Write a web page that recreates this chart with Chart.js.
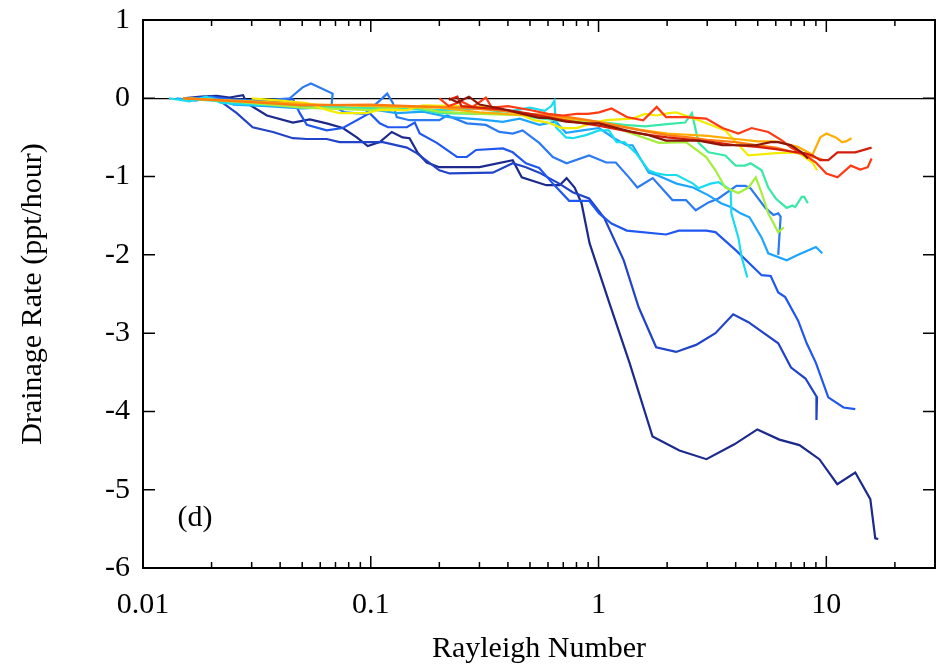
<!DOCTYPE html>
<html>
<head>
<meta charset="utf-8">
<script src="https://cdn.jsdelivr.net/npm/chart.js@4.4.1/dist/chart.umd.min.js"></script>
<style>
  body { margin: 0; background: #fff; }
  #wrap { width: 938px; height: 667px; }
</style>
</head>
<body>
<div id="wrap"><canvas id="chart"></canvas></div>
<script>
// Rayleigh number vs drainage rate, one [x, y] list per run (cold -> warm colours)
var runNavy = [[0.015,0],[0.018,0.02],[0.021,0.03],[0.024,0.01],[0.0275,0.04],[0.0285,-0.06],[0.035,-0.22],[0.0455,-0.31],[0.054,-0.27],[0.064,-0.32],[0.0754,-0.38],[0.0868,-0.5],[0.097,-0.61],[0.1095,-0.56],[0.1236,-0.43],[0.138,-0.5],[0.148,-0.51],[0.161,-0.7],[0.176,-0.82],[0.2,-0.88],[0.3,-0.88],[0.42,-0.79],[0.46,-1.01],[0.59,-1.11],[0.675,-1.11],[0.724,-1.02],[0.785,-1.14],[0.842,-1.34],[0.913,-1.85],[1.117,-2.62],[1.368,-3.38],[1.726,-4.32],[2.265,-4.5],[2.977,-4.61],[3.947,-4.42],[4.98,-4.23],[6.22,-4.36],[7.62,-4.43],[9.32,-4.61],[11.17,-4.93],[13.4,-4.78],[15.6,-5.12],[16.4,-5.62],[16.9,-5.63]];
var runBlue1 = [[0.016,0],[0.0178,-0.01],[0.02,0.01],[0.0224,-0.06],[0.0258,-0.19],[0.0303,-0.37],[0.0372,-0.43],[0.0455,-0.51],[0.0524,-0.52],[0.064,-0.52],[0.073,-0.56],[0.083,-0.56],[0.113,-0.56],[0.144,-0.63],[0.159,-0.7],[0.2,-0.92],[0.222,-0.96],[0.343,-0.95],[0.42,-0.83],[0.48,-0.88],[0.549,-0.95],[0.672,-1.09],[0.77,-1.2],[0.909,-1.28],[1.06,-1.53],[1.29,-2.07],[1.5,-2.67],[1.79,-3.18],[2.19,-3.24],[2.68,-3.15],[3.26,-3.0],[3.9,-2.76],[4.55,-2.86],[6.15,-3.13],[7.0,-3.44],[8.1,-3.58],[9.1,-3.82],[9.05,-4.11]];
var runBlue2 = [[0.016,0],[0.02,0.02],[0.0241,-0.01],[0.0326,-0.03],[0.041,-0.04],[0.0455,-0.01],[0.0488,-0.19],[0.0524,-0.34],[0.064,-0.41],[0.0754,-0.38],[0.099,-0.19],[0.1095,-0.32],[0.119,-0.37],[0.144,-0.37],[0.156,-0.31],[0.164,-0.45],[0.195,-0.57],[0.239,-0.75],[0.264,-0.75],[0.29,-0.66],[0.38,-0.64],[0.42,-0.69],[0.48,-0.83],[0.549,-0.89],[0.63,-1.09],[0.743,-1.31],[0.909,-1.31],[1.005,-1.47],[1.14,-1.6],[1.33,-1.69],[1.98,-1.74],[2.25,-1.69],[2.97,-1.69],[3.26,-1.71],[4.0,-1.94],[5.2,-2.26],[5.7,-2.27],[6.15,-2.48],[6.6,-2.54],[7.52,-2.84],[8.2,-3.13],[9.0,-3.38],[10.2,-3.82],[11.9,-3.95],[13.4,-3.97]];
var runBlue3 = [[0.016,0],[0.025,-0.02],[0.0326,-0.03],[0.0441,0],[0.0502,0.14],[0.0546,0.19],[0.068,0.06],[0.0673,-0.09],[0.077,-0.18],[0.094,-0.2],[0.1095,-0.03],[0.118,0.06],[0.125,-0.06],[0.13,-0.24],[0.148,-0.28],[0.2,-0.28],[0.216,-0.22],[0.264,-0.32],[0.32,-0.34],[0.367,-0.43],[0.42,-0.45],[0.464,-0.41],[0.549,-0.57],[0.63,-0.75],[0.724,-0.83],[0.909,-0.73],[1.08,-0.82],[1.19,-0.82],[1.36,-1.01],[1.48,-1.14],[1.73,-1.02],[1.98,-1.21],[2.11,-1.3],[2.42,-1.3],[2.67,-1.43],[3.04,-1.33],[3.36,-1.28],[4.03,-1.12],[4.41,-1.12],[4.65,-1.15],[5.4,-1.4],[5.86,-1.49],[6.15,-1.47],[6.3,-1.51],[6.15,-2.0]];
var runSky = [[0.014,0],[0.017,-0.03],[0.02,0.01],[0.025,-0.08],[0.035,-0.1],[0.05,-0.13],[0.07,-0.11],[0.1,-0.14],[0.13,-0.19],[0.17,-0.17],[0.22,-0.24],[0.3,-0.27],[0.38,-0.3],[0.45,-0.26],[0.55,-0.34],[0.65,-0.3],[0.72,-0.44],[0.85,-0.41],[1.005,-0.38],[1.17,-0.51],[1.33,-0.6],[1.41,-0.6],[1.66,-0.95],[1.8,-0.98],[2.2,-1.09],[2.6,-1.14],[3.04,-1.24],[3.45,-1.34],[3.8,-1.39],[4.2,-1.47],[4.6,-1.52],[5.2,-1.78],[5.56,-1.98],[6.7,-2.07],[7.52,-2.0],[9.0,-1.9],[9.6,-1.98]];
var runCyan = [[0.013,0],[0.016,-0.04],[0.019,0.02],[0.022,-0.06],[0.03,-0.08],[0.05,-0.1],[0.08,-0.12],[0.12,-0.13],[0.2,-0.15],[0.3,-0.13],[0.4,-0.17],[0.5,-0.12],[0.58,-0.16],[0.62,-0.1],[0.64,-0.03],[0.65,-0.37],[0.72,-0.5],[0.77,-0.51],[0.88,-0.47],[1.005,-0.41],[1.11,-0.41],[1.2,-0.56],[1.3,-0.56],[1.46,-0.7],[1.66,-0.92],[1.8,-0.96],[1.98,-0.98],[2.2,-0.98],[2.6,-1.09],[2.75,-1.15],[3.1,-1.09],[3.36,-1.07],[3.8,-1.17],[3.83,-1.47],[4.11,-1.78],[4.25,-2.03],[4.5,-2.29]];
var runAqua = [[0.015,0],[0.02,-0.03],[0.03,-0.06],[0.05,-0.11],[0.1,-0.13],[0.15,-0.12],[0.2,-0.19],[0.3,-0.2],[0.4,-0.16],[0.5,-0.24],[0.7,-0.29],[1.0,-0.3],[1.3,-0.34],[1.6,-0.36],[2.0,-0.33],[2.4,-0.31],[2.57,-0.19],[2.75,-0.57],[3.04,-0.69],[3.6,-0.73],[4.0,-0.86],[4.4,-0.86],[4.65,-0.83],[5.2,-0.92],[5.56,-1.14],[6.0,-1.28],[6.7,-1.4],[7.1,-1.37],[7.3,-1.39],[7.8,-1.26],[8.0,-1.26],[8.3,-1.34]];
var runLime = [[0.016,0],[0.025,-0.04],[0.05,-0.12],[0.1,-0.15],[0.15,-0.1],[0.2,-0.17],[0.3,-0.2],[0.5,-0.22],[0.7,-0.27],[0.9,-0.3],[1.1,-0.34],[1.4,-0.45],[1.84,-0.57],[2.42,-0.56],[2.97,-0.75],[3.26,-0.92],[3.6,-1.14],[4.11,-1.21],[4.55,-1.14],[4.9,-1.01],[5.2,-1.21],[5.56,-1.47],[6.15,-1.71],[6.5,-1.65]];
var runYellow = [[0.03,0],[0.04,-0.03],[0.0524,-0.06],[0.064,-0.15],[0.073,-0.19],[0.096,-0.19],[0.1095,-0.15],[0.144,-0.15],[0.169,-0.09],[0.25,-0.1],[0.35,-0.12],[0.45,-0.2],[0.52,-0.28],[0.6,-0.31],[0.69,-0.38],[0.8,-0.38],[0.93,-0.32],[1.08,-0.28],[1.41,-0.26],[1.6,-0.2],[1.8,-0.22],[2.03,-0.19],[2.2,-0.18],[2.75,-0.28],[3.6,-0.41],[4.55,-0.73],[6.0,-0.7],[7.5,-0.69],[8.7,-0.82],[9.1,-0.92]];
var runAmber = [[0.015,0],[0.03,-0.04],[0.06,-0.08],[0.1,-0.1],[0.2,-0.12],[0.3,-0.18],[0.5,-0.22],[0.7,-0.25],[1.0,-0.3],[1.5,-0.4],[2.0,-0.45],[3.0,-0.48],[4.0,-0.52],[5.0,-0.55],[6.0,-0.55],[7.5,-0.62],[8.7,-0.72],[9.4,-0.5],[10.0,-0.45],[11.0,-0.5],[11.7,-0.56],[12.2,-0.55],[12.9,-0.51]];
var runOrange = [[0.015,0],[0.03,-0.05],[0.05,-0.09],[0.1,-0.08],[0.15,-0.1],[0.25,-0.12],[0.35,-0.15],[0.5,-0.2],[0.7,-0.23],[0.9,-0.28],[1.2,-0.35],[1.6,-0.42],[2.0,-0.47],[2.5,-0.5],[3.0,-0.53],[4.0,-0.56],[5.0,-0.6],[6.0,-0.63],[7.0,-0.68],[8.0,-0.72],[9.0,-0.76],[9.6,-0.78]];
var runRed = [[0.2,0],[0.22,-0.1],[0.25,-0.04],[0.28,-0.11],[0.3,-0.05],[0.32,0.01],[0.34,-0.12],[0.4,-0.1],[0.5,-0.15],[0.6,-0.2],[0.7,-0.22],[0.8,-0.2],[0.9,-0.2],[1.005,-0.18],[1.14,-0.13],[1.33,-0.24],[1.57,-0.28],[1.8,-0.11],[1.98,-0.24],[2.42,-0.24],[2.97,-0.26],[3.5,-0.38],[4.11,-0.45],[4.7,-0.38],[5.56,-0.43],[6.4,-0.54],[7.0,-0.63],[8.1,-0.73],[9.0,-0.82],[10.0,-0.96],[11.2,-1.01],[12.8,-0.86],[14.1,-0.91],[15.2,-0.88],[15.8,-0.77]];
var runCrimson = [[0.22,-0.02],[0.24,0.02],[0.25,-0.1],[0.3,-0.12],[0.4,-0.15],[0.5,-0.2],[0.7,-0.28],[1.0,-0.35],[1.5,-0.45],[2.0,-0.5],[3.0,-0.55],[4.0,-0.6],[5.0,-0.62],[6.0,-0.65],[7.0,-0.68],[8.0,-0.7],[8.7,-0.73],[9.4,-0.79],[10.2,-0.79],[11.2,-0.69],[13.4,-0.69],[15.8,-0.63]];
var runMaroon = [[0.22,0],[0.24,-0.05],[0.27,0.02],[0.3,-0.08],[0.37,-0.13],[0.45,-0.19],[0.55,-0.25],[0.6,-0.25],[0.72,-0.3],[0.9,-0.32],[1.005,-0.32],[1.41,-0.43],[1.66,-0.47],[1.98,-0.54],[2.75,-0.54],[3.5,-0.6],[4.9,-0.6],[5.7,-0.56],[6.15,-0.56],[7.0,-0.6],[7.8,-0.69],[8.3,-0.77]];

var runs = [runNavy, runBlue1, runBlue2, runBlue3, runSky, runCyan, runAqua, runLime, runYellow, runAmber, runOrange, runRed, runCrimson, runMaroon];
var colors = ['#1b2a8c', '#2143c8', '#1f57f0', '#2b7af2', '#1ca4ff', '#18dcf0', '#3ae8a8', '#a6ee3c', '#f4ec00', '#ffae00', '#ff7c10', '#ff3a14', '#d41e0c', '#8c1408'];

var xTicks = [0.01,0.02,0.03,0.04,0.05,0.06,0.07,0.08,0.09,0.1,0.2,0.3,0.4,0.5,0.6,0.7,0.8,0.9,1,2,3,4,5,6,7,8,9,10,20];
var xMajor = [0.01, 0.1, 1, 10];
var xMajorLabels = ['0.01', '0.1', '1', '10'];
var yTicks = [-6, -5, -4, -3, -2, -1, 0, 1];

Chart.defaults.font.family = '"Liberation Serif", "DejaVu Serif", serif';
Chart.defaults.color = '#000';

var framePlugin = {
    id: 'frame',
    afterDraw: function(chart) {
        var ctx = chart.ctx, a = chart.chartArea;
        var x = chart.scales.x, y = chart.scales.y;
        ctx.save();
        ctx.strokeStyle = '#000';
        ctx.lineWidth = 1.5;
        ctx.beginPath();
        xTicks.forEach(function(v) {
            var px = x.getPixelForValue(v);
            var len = xMajor.indexOf(v) >= 0 ? 12 : 6;
            ctx.moveTo(px, a.bottom); ctx.lineTo(px, a.bottom - len);
            ctx.moveTo(px, a.top); ctx.lineTo(px, a.top + len);
        });
        yTicks.forEach(function(v) {
            var py = y.getPixelForValue(v);
            ctx.moveTo(a.left, py); ctx.lineTo(a.left + 12, py);
            ctx.moveTo(a.right, py); ctx.lineTo(a.right - 12, py);
        });
        ctx.stroke();
        ctx.lineWidth = 2;
        ctx.strokeRect(a.left, a.top, a.right - a.left, a.bottom - a.top);
        // panel letter
        ctx.fillStyle = '#000';
        ctx.font = '30px "Liberation Serif"';
        ctx.textAlign = 'center';
        ctx.textBaseline = 'middle';
        ctx.fillText('(d)', x.getPixelForValue(0.0169), y.getPixelForValue(-5.36));
        ctx.restore();
    }
};

var ctx = document.getElementById('chart').getContext('2d');
var myChart = new Chart(ctx, {
    type: 'line',
    data: {
        datasets: runs.map(function(r, i) {
            return {
                data: r.map(function(p) { return {x: p[0], y: p[1]}; }),
                borderColor: colors[i],
                borderWidth: 2.2,
                pointRadius: 0,
                tension: 0,
                fill: false,
                order: runs.length - i
            };
        })
    },
    options: {
        responsive: true,
        maintainAspectRatio: false,
        animation: false,
        layout: { padding: { top: 20, right: 3, left: 0, bottom: 0 } },
        plugins: { legend: { display: false }, tooltip: { enabled: false } },
        scales: {
            x: {
                type: 'logarithmic',
                min: 0.01,
                max: 30,
                afterBuildTicks: function(s) { s.ticks = xTicks.map(function(v) { return {value: v}; }); },
                afterFit: function(s) { s.height = 99; s.paddingLeft = 0; s.paddingRight = 0; },
                grid: { display: false, drawTicks: false },
                border: { display: false },
                ticks: {
                    autoSkip: false,
                    maxRotation: 0,
                    padding: 19,
                    font: { size: 30 },
                    callback: function(v) {
                        var k = xMajor.indexOf(v);
                        return k >= 0 ? xMajorLabels[k] : '';
                    }
                },
                title: { display: true, text: 'Rayleigh Number', font: { size: 30 }, padding: { top: 0, bottom: 0 } }
            },
            y: {
                min: -6,
                max: 1,
                afterBuildTicks: function(s) { s.ticks = yTicks.map(function(v) { return {value: v}; }); },
                afterFit: function(s) { s.width = 143; s.paddingTop = 0; s.paddingBottom = 0; },
                grid: {
                    drawTicks: false,
                    lineWidth: 1.2,
                    color: function(c) { return c.tick && c.tick.value === 0 ? '#000' : 'rgba(0,0,0,0)'; }
                },
                border: { display: false },
                ticks: { padding: 13, font: { size: 30 } },
                title: { display: true, text: 'Drainage Rate (ppt/hour)', font: { size: 30 }, padding: { top: 15, bottom: 0 } }
            }
        }
    },
    plugins: [framePlugin]
});
</script>
</body>
</html>
